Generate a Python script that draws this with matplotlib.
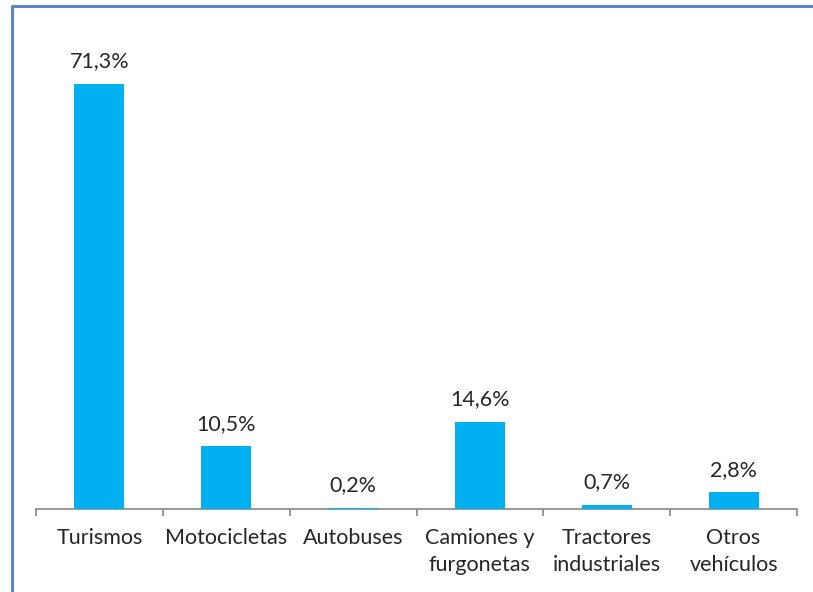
import matplotlib.pyplot as plt
from matplotlib.lines import Line2D
import numpy as np

categorias = ['Turismos', 'Motocicletas', 'Autobuses', 'Camiones y\nfurgonetas',
              'Tractores\nindustriales', 'Otros\nvehículos']
porcentajes = [71.3, 10.5, 0.2, 14.6, 0.7, 2.8]
etiquetas = ['71,3%', '10,5%', '0,2%', '14,6%', '0,7%', '2,8%']

plt.rcParams['font.family'] = ['Lato', 'DejaVu Sans']
texto = '#262626'
fs = 15.5

fig = plt.figure(figsize=(8.13, 5.92), dpi=100)
W, H = 813, 592
ax = fig.add_axes([36 / W, (H - 509) / H, (797 - 36) / W, (509 - 30) / H])

x = np.arange(len(categorias))
barras = ax.bar(x, porcentajes, width=0.394, color='#00B0F0', zorder=3)
for b, lab in zip(barras, etiquetas):
    ax.annotate(lab, (b.get_x() + b.get_width() / 2, b.get_height()),
                xytext=(0, 9), textcoords='offset points', ha='center',
                va='bottom', fontsize=fs, color=texto)

ax.set_xlim(-0.5, len(categorias) - 0.5)
ax.set_ylim(0, 479 / 5.96)
ax.set_xticks(x)
ax.set_xticklabels(categorias, fontsize=fs, color=texto, linespacing=1.42)
ax.set_xticks(np.arange(-0.5, len(categorias)), minor=True)
ax.tick_params(axis='x', which='major', length=0, pad=14)
ax.tick_params(axis='x', which='minor', length=5, width=1.2, color='#868686')
ax.set_yticks([])
for s in ['top', 'right', 'left']:
    ax.spines[s].set_visible(False)
ax.spines['bottom'].set_color('#868686')
ax.spines['bottom'].set_linewidth(1.2)

# marco azul del gráfico
fig.add_artist(Line2D([11.5 / W, 11.5 / W, 1], [0, 1 - 6 / H, 1 - 6 / H],
                      transform=fig.transFigure, color='#5B87C7', lw=2.2))

fig.savefig('out.png', dpi=100)
